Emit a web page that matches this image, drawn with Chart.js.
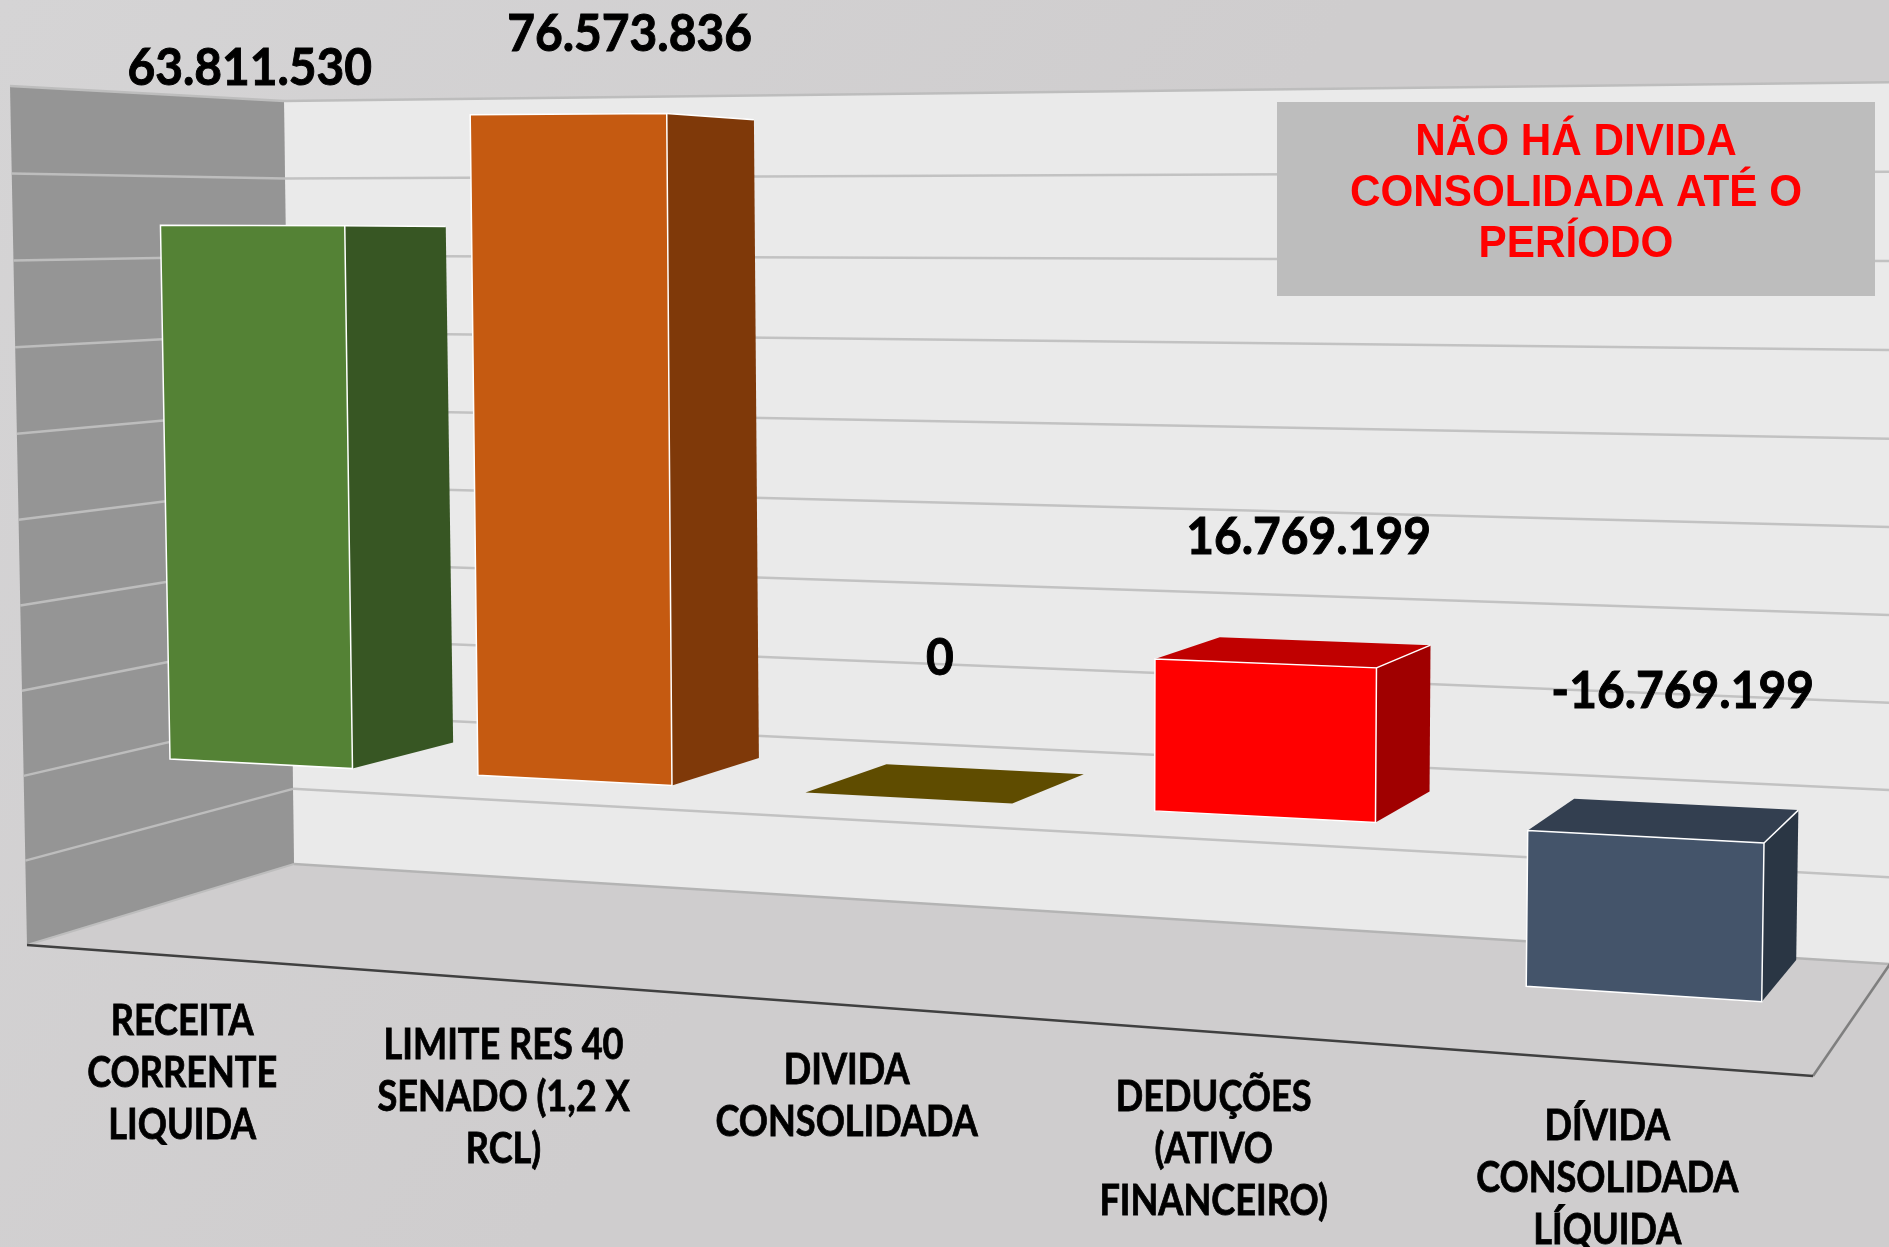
<!DOCTYPE html>
<html lang="pt-BR">
<head>
<meta charset="utf-8">
<title>Dívida consolidada</title>
<script src="https://cdn.jsdelivr.net/npm/chart.js@4"></script>
<style>
	html, body { margin: 0; padding: 0; background: #cfcdce; }
	canvas { display: block; }
</style>
</head>
<body>
<canvas id="chart" width="1889" height="1247"></canvas>
<script>
	// Chart data
	const categories = [
		['RECEITA', 'CORRENTE', 'LIQUIDA'],
		['LIMITE RES 40', 'SENADO (1,2 X', 'RCL)'],
		['DIVIDA', 'CONSOLIDADA'],
		['DEDUÇÕES', '(ATIVO', 'FINANCEIRO)'],
		['DÍVIDA', 'CONSOLIDADA', 'LÍQUIDA']
	];
	const values = [63811530, 76573836, 0, 16769199, -16769199];
	const frontColors = ['#548235', '#c55a11', '#5f4c00', '#ff0000', '#44546a'];
	const sideColors = ['#375623', '#7f3909', '#5f4c00', '#a00000', '#2a3644'];
	const topColors = ['#375623', '#7f3909', '#5f4c00', '#c00000', '#333f50'];
	const noteLines = ['NÃO HÁ DIVIDA', 'CONSOLIDADA ATÉ O', 'PERÍODO'];

	// Value labels sit where they were dragged in the original, relative to each bar top
	const labelShift = [[-2, -141], [62, -63], [32, -123], [44, -109], [38, -129]];

	// Projection: [bottom-left, bottom-right, top-right, top-left] on screen
	const VANISH = [2394, 240];
	const BOX_QUAD = [[27, 945], [1813, 1076], [1835, 58], [10, 86]];
	const WALL_QUAD = [[294, 864], [1890, 964], [1910, 82], [284, 101]];
	const BAR_QUAD = [[170, 759], [1764, 843], [1775, 72], [158, 88]];
	const BAR_U_WARP = 0.99;

	/**
	 * Build a unit-square to quad projective mapping
	 */
	function homography(q) {
		const [x0, y0] = q[0], [x1, y1] = q[1], [x2, y2] = q[2], [x3, y3] = q[3];
		const dx1 = x1 - x2, dx2 = x3 - x2, sx = x0 - x1 + x2 - x3;
		const dy1 = y1 - y2, dy2 = y3 - y2, sy = y0 - y1 + y2 - y3;
		const den = dx1 * dy2 - dx2 * dy1;
		const g = (sx * dy2 - dx2 * sy) / den;
		const h = (dx1 * sy - sx * dy1) / den;
		const a = x1 - x0 + g * x1, b = x3 - x0 + h * x3;
		const d = y1 - y0 + g * y1, e = y3 - y0 + h * y3;
		return (u, v) => {
			const w = g * u + h * v + 1;
			return [(a * u + b * v + x0) / w, (d * u + e * v + y0) / w];
		};
	}

	const boxMap = homography(BOX_QUAD);
	const wallMap = homography(WALL_QUAD);
	const barQuadMap = homography(BAR_QUAD);
	// BAR_QUAD spans the outer bar edges (u .04 to .96) and zero to the axis max (v .2 to 1)
	const barMap = (u, v) => {
		const t = (u - 0.04) / 0.92;
		return barQuadMap(t * BAR_U_WARP / (1 - t + t * BAR_U_WARP), (v - 0.2) / 0.8);
	};

	function polygon(ctx, pts, fill, stroke, lineWidth) {
		ctx.beginPath();
		pts.forEach((p, i) => i ? ctx.lineTo(p[0], p[1]) : ctx.moveTo(p[0], p[1]));
		ctx.closePath();
		ctx.fillStyle = fill;
		ctx.fill();
		if (stroke) {
			ctx.strokeStyle = stroke;
			ctx.lineWidth = lineWidth;
			ctx.stroke();
		}
	}

	function line(ctx, a, b, color, width) {
		ctx.beginPath();
		ctx.moveTo(a[0], a[1]);
		ctx.lineTo(b[0], b[1]);
		ctx.strokeStyle = color;
		ctx.lineWidth = width;
		ctx.stroke();
	}

	// Calibri is not installed; Lato squeezed a little comes closest
	function text(ctx, str, x, y, font, color, squeeze, heavy) {
		ctx.save();
		ctx.translate(x, y);
		ctx.scale(squeeze, 1);
		ctx.font = font;
		ctx.fillStyle = color;
		ctx.textAlign = 'center';
		ctx.textBaseline = 'alphabetic';
		ctx.fillText(str, 0, 0);
		if (heavy) {
			ctx.strokeStyle = color;
			ctx.lineWidth = heavy;
			ctx.strokeText(str, 0, 0);
		}
		ctx.restore();
	}

	function drawRoom(ctx, chart, v) {
		const { width, height } = chart;
		const bg = ctx.createLinearGradient(0, 0, width, height);
		bg.addColorStop(0, '#d5d4d5');
		bg.addColorStop(0.5, '#cfcdce');
		bg.addColorStop(1, '#cfcdce');
		ctx.fillStyle = bg;
		ctx.fillRect(0, 0, width, height);

		polygon(ctx, [wallMap(0, 0), wallMap(1, 0), wallMap(1, 1), wallMap(0, 1)], '#eaeaea');
		polygon(ctx, [boxMap(0, 0), wallMap(0, 0), wallMap(0, 1), boxMap(0, 1)], '#959595');
		polygon(ctx, [boxMap(0, 0), boxMap(1, 0), wallMap(1, 0), wallMap(0, 0)], '#cfcdce');

		chart.scales.y.ticks.forEach(tick => {
			const t = v(tick.value);
			if (t > 0 && t < 1) {
				line(ctx, boxMap(0, t), wallMap(0, t), '#bdbdbd', 2.5);
				line(ctx, wallMap(0, t), wallMap(1, t), '#c2c2c2', 2.5);
			}
		});
		line(ctx, boxMap(0, 1), wallMap(0, 1), '#bdbdbd', 2.5);
		line(ctx, wallMap(0, 1), wallMap(1, 1), '#bdbdbd', 2.5);
		line(ctx, wallMap(0, 0), wallMap(1, 0), '#b4b4b4', 2.5);
		line(ctx, boxMap(0, 0), wallMap(0, 0), '#bdbdbd', 2);
		line(ctx, boxMap(1, 0), wallMap(1, 0), '#7f7f7f', 2.5);
		line(ctx, boxMap(0, 0), boxMap(1, 0), '#404040', 2.5);
	}

	function drawBars(ctx, chart, u, v) {
		const area = chart.chartArea;
		const yScale = chart.scales.y;
		const meta = chart.getDatasetMeta(0);
		meta.data.forEach((bar, i) => {
			const left = u(bar.x - bar.width / 2), right = u(bar.x + bar.width / 2);
			const top = v(yScale.getValueForPixel(Math.min(bar.y, bar.base)));
			const bottom = v(yScale.getValueForPixel(Math.max(bar.y, bar.base)));
			const depth = p => {
				const t = 0.048 + 0.007 * (p[0] - area.left) / area.width;
				return [p[0] + t * (VANISH[0] - p[0]), p[1] + t * (VANISH[1] - p[1])];
			};
			const tl = barMap(left, top), tr = barMap(right, top);
			const bl = barMap(left, bottom), br = barMap(right, bottom);
			const edge = values[i] === 0 ? null : '#ffffff';
			polygon(ctx, [tl, tr, depth(tr), depth(tl)], topColors[i]);
			polygon(ctx, [tr, br, depth(br), depth(tr)], sideColors[i]);
			if (edge) {
				polygon(ctx, [tl, tr, br, bl], frontColors[i], edge, 1.5);
				line(ctx, tr, depth(tr), edge, 1.5);
			}

			// value label above the bar
			const mid = barMap((left + right) / 2, top);
			text(ctx, values[i].toLocaleString('pt-BR'), mid[0] + labelShift[i][0], mid[1] + labelShift[i][1],
				'bold 52px Lato', '#000000', 0.92, 1);
		});
	}

	function drawCategoryLabels(ctx, chart, u) {
		categories.forEach((lines, i) => {
			const p = boxMap(u(chart.scales.x.getPixelForTick(i)), 0);
			lines.forEach((str, n) => {
				text(ctx, str, p[0] + 2, p[1] + 79 + n * 52, 'bold 42px Lato', '#000000', 0.86, 0.8);
			});
		});
	}

	function drawNote(ctx) {
		ctx.fillStyle = '#bdbdbd';
		ctx.fillRect(1277, 102, 598, 194);
		noteLines.forEach((str, n) => {
			text(ctx, str, 1576, 155 + n * 51, 'bold 44px "Liberation Sans"', '#ff0000', 0.96);
		});
	}

	// Turns the flat chart into the 3D room; the scales still place everything
	const room3d = {
		id: 'room3d',
		beforeDatasetsDraw(chart) {
			const { ctx, chartArea: area, scales } = chart;
			const u = px => (px - area.left) / area.width;
			const v = val => (area.bottom - scales.y.getPixelForValue(val)) / area.height;
			drawRoom(ctx, chart, v);
			drawNote(ctx);
			drawBars(ctx, chart, u, v);
			drawCategoryLabels(ctx, chart, u);
			return false;
		}
	};

	new Chart(document.getElementById('chart'), {
		type: 'bar',
		data: {
			labels: categories,
			datasets: [{
				data: values,
				backgroundColor: frontColors,
				categoryPercentage: 0.6,
				barPercentage: 1
			}]
		},
		options: {
			responsive: false,
			animation: false,
			layout: { padding: 0 },
			plugins: { legend: { display: false }, tooltip: { enabled: false } },
			scales: {
				x: { display: false },
				y: { display: false, min: -20000000, max: 80000000, ticks: { stepSize: 10000000 } }
			}
		},
		plugins: [room3d]
	});
</script>
</body>
</html>
